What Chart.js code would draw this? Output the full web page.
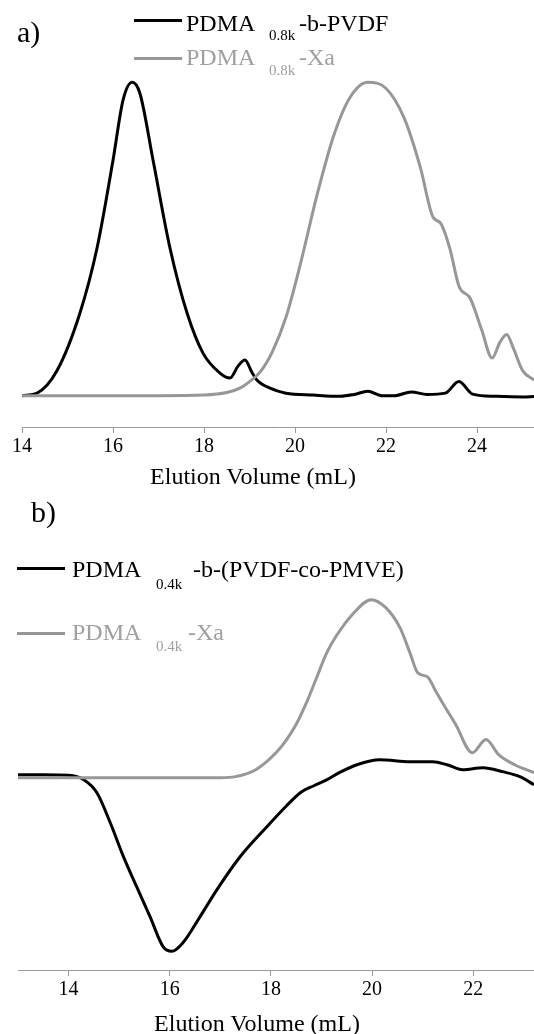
<!DOCTYPE html>
<html lang="en">
<head>
    <meta charset="UTF-8">
    <title>SEC traces PDMA-Xa / block copolymers</title>
    <style>
        body { margin: 0; background: #fff; }
        .page { position: relative; width: 534px; height: 1034px; overflow: hidden; font-family: "Liberation Serif", "Times New Roman", Times, "DejaVu Serif", serif; }
        .panel { position: absolute; left: 0; }
        .txt { position: absolute; white-space: nowrap; line-height: 1; }
        .big { font-size: 24px; }
        .sub { font-size: 15px; }
        .black { color: #000; }
        .grey { color: #a0a0a0; }
        .swatch { position: absolute; height: 3px; width: 48px; }
        .tag { font-size: 30px; }
        .axis-title { position: absolute; font-size: 24px; line-height: 1; text-align: center; }
    </style>
</head>
<body>
<div class="page">
    <div class="panel" style="top:0;height:500px;width:534px">
        <canvas id="chart-a" width="534" height="500"></canvas>
    </div>
    <div class="panel" style="top:500px;height:534px;width:534px">
        <canvas id="chart-b" width="534" height="534"></canvas>
    </div>

    <!-- panel a labels -->
    <div class="txt tag" style="left:17px;top:17px">a)</div>
    <div class="swatch" style="left:134px;top:19px;background:#000"></div>
    <div class="txt big black" style="left:186px;top:11px">PDMA</div>
    <div class="txt sub black" style="left:269px;top:28px">0.8k</div>
    <div class="txt big black" style="left:299px;top:11px">-b-PVDF</div>
    <div class="swatch" style="left:134px;top:57px;background:#979797"></div>
    <div class="txt big grey" style="left:186px;top:45px">PDMA</div>
    <div class="txt sub grey" style="left:269px;top:63px">0.8k</div>
    <div class="txt big grey" style="left:299px;top:45px">-Xa</div>
    <div class="axis-title" style="left:0;width:506px;top:464px">Elution Volume (mL)</div>

    <!-- panel b labels -->
    <div class="txt tag" style="left:31px;top:497px">b)</div>
    <div class="swatch" style="left:17px;top:567px;background:#000"></div>
    <div class="txt big black" style="left:72px;top:557px">PDMA</div>
    <div class="txt sub black" style="left:156px;top:577px">0.4k</div>
    <div class="txt big black" style="left:193px;top:557px">-b-(PVDF-co-PMVE)</div>
    <div class="swatch" style="left:17px;top:632px;background:#979797"></div>
    <div class="txt big grey" style="left:72px;top:620px">PDMA</div>
    <div class="txt sub grey" style="left:156px;top:639px">0.4k</div>
    <div class="txt big grey" style="left:188px;top:620px">-Xa</div>
    <div class="axis-title" style="left:0;width:514px;top:1011px">Elution Volume (mL)</div>
</div>

<script src="https://cdn.jsdelivr.net/npm/chart.js"></script>
<script>
    // panel a: PDMA0.8k-b-PVDF (black) and PDMA0.8k-Xa (grey), normalised RI signal
    const aBlockVol = [14.0, 14.33, 14.77, 15.27, 15.65, 16.0, 16.22, 16.42, 16.59, 16.88, 17.25, 17.63, 17.98, 18.35, 18.57, 18.75, 18.9, 19.05, 19.16, 19.45, 19.8, 20.4, 21.0, 21.3, 21.6, 21.9, 22.2, 22.55, 22.9, 23.3, 23.6, 23.9, 24.4, 25.0, 25.25];
    const aBlockSig = [0.0, 0.008, 0.08, 0.262, 0.472, 0.751, 0.943, 1.0, 0.965, 0.751, 0.472, 0.262, 0.135, 0.072, 0.056, 0.095, 0.114, 0.075, 0.05, 0.024, 0.008, 0.002, -0.002, 0.004, 0.014, 0.0, 0.0, 0.012, 0.004, 0.008, 0.045, 0.005, -0.002, -0.004, -0.003];
    const aXaVol = [14.0, 17.0, 18.0, 18.5, 18.8, 19.0, 19.23, 19.5, 19.8, 20.1, 20.5, 20.85, 21.2, 21.6, 22.0, 22.4, 22.75, 23.03, 23.2, 23.4, 23.6, 23.85, 24.1, 24.33, 24.5, 24.65, 24.8, 25.0, 25.25];
    const aXaSig = [0.0, 0.0, 0.002, 0.01, 0.025, 0.045, 0.075, 0.14, 0.25, 0.41, 0.65, 0.83, 0.95, 1.0, 0.98, 0.885, 0.73, 0.57, 0.55, 0.47, 0.35, 0.31, 0.21, 0.12, 0.17, 0.195, 0.15, 0.08, 0.05];
    const aTicks = [14, 16, 18, 20, 22, 24];

    // panel b: PDMA0.4k-b-(PVDF-co-PMVE) (black, negative RI response) and PDMA0.4k-Xa (grey)
    const bBlockVol = [13.0, 13.5, 14.0, 14.3, 14.56, 14.82, 15.08, 15.35, 15.61, 15.87, 16.04, 16.26, 16.6, 16.93, 17.39, 17.92, 18.3, 18.6, 18.85, 19.1, 19.36, 19.7, 20.15, 20.75, 21.2, 21.48, 21.79, 22.19, 22.58, 22.92, 23.2];
    const bBlockSig = [0.017, 0.017, 0.014, -0.011, -0.084, -0.25, -0.44, -0.615, -0.78, -0.95, -0.975, -0.927, -0.78, -0.63, -0.444, -0.275, -0.16, -0.08, -0.045, -0.012, 0.03, 0.073, 0.101, 0.09, 0.09, 0.073, 0.045, 0.056, 0.034, 0.006, -0.039];
    const bXaVol = [13.0, 16.5, 17.0, 17.3, 17.7, 18.1, 18.3, 18.5, 18.7, 18.9, 19.1, 19.3, 19.62, 19.98, 20.27, 20.55, 20.75, 20.9, 21.1, 21.25, 21.45, 21.65, 21.98, 22.25, 22.5, 22.82, 23.2];
    const bXaSig = [0.0, 0.0, 0.0, 0.006, 0.045, 0.14, 0.21, 0.3, 0.42, 0.56, 0.7, 0.8, 0.92, 1.0, 0.955, 0.843, 0.7, 0.59, 0.565, 0.49, 0.393, 0.3, 0.14, 0.215, 0.13, 0.073, 0.028];
    const bTicks = [14, 16, 18, 20, 22];

    const AXIS_GREY = '#9a9a9a';
    const SERIF = '"Liberation Serif", "Times New Roman", Times, "DejaVu Serif", serif';

    function toPoints(xs, ys) {
        return xs.map((x, i) => ({ x: x, y: ys[i] }));
    }

    function traceDataset(xs, ys, color) {
        return {
            data: toPoints(xs, ys),
            borderColor: color,
            borderWidth: 3,
            pointRadius: 0,
            fill: false,
            cubicInterpolationMode: 'monotone'
        };
    }

    function makeChart(id, cfg) {
        return new Chart(document.getElementById(id).getContext('2d'), {
            type: 'line',
            data: { datasets: cfg.datasets },
            options: {
                responsive: false,
                animation: false,
                layout: { padding: { top: cfg.top, left: cfg.left, right: 0, bottom: 0 } },
                plugins: { legend: { display: false }, tooltip: { enabled: false } },
                scales: {
                    x: {
                        type: 'linear',
                        min: cfg.xMin,
                        max: cfg.xMax,
                        afterBuildTicks: (scale) => { scale.ticks = cfg.ticks.map(v => ({ value: v })); },
                        afterFit: (scale) => { scale.height = cfg.scaleHeight; },
                        border: { display: true, color: AXIS_GREY, width: 1 },
                        grid: { drawOnChartArea: false, drawTicks: true, tickLength: 6, color: AXIS_GREY },
                        ticks: {
                            color: '#000',
                            padding: 2,
                            maxRotation: 0,
                            autoSkip: false,
                            font: { family: SERIF, size: 20 }
                        }
                    },
                    y: {
                        display: false,
                        min: cfg.yMin,
                        max: cfg.yMax
                    }
                }
            }
        });
    }

    makeChart('chart-a', {
        datasets: [
            traceDataset(aXaVol, aXaSig, '#979797'),
            traceDataset(aBlockVol, aBlockSig, '#000')
        ],
        xMin: 14, xMax: 25.25, ticks: aTicks,
        yMin: -0.1, yMax: 1.02,
        top: 76, left: 22, scaleHeight: 73
    });

    makeChart('chart-b', {
        datasets: [
            traceDataset(bXaVol, bXaSig, '#979797'),
            traceDataset(bBlockVol, bBlockSig, '#000')
        ],
        xMin: 13, xMax: 23.2, ticks: bTicks,
        yMin: -1.08, yMax: 1.06,
        top: 89, left: 18, scaleHeight: 64
    });
</script>
</body>
</html>
